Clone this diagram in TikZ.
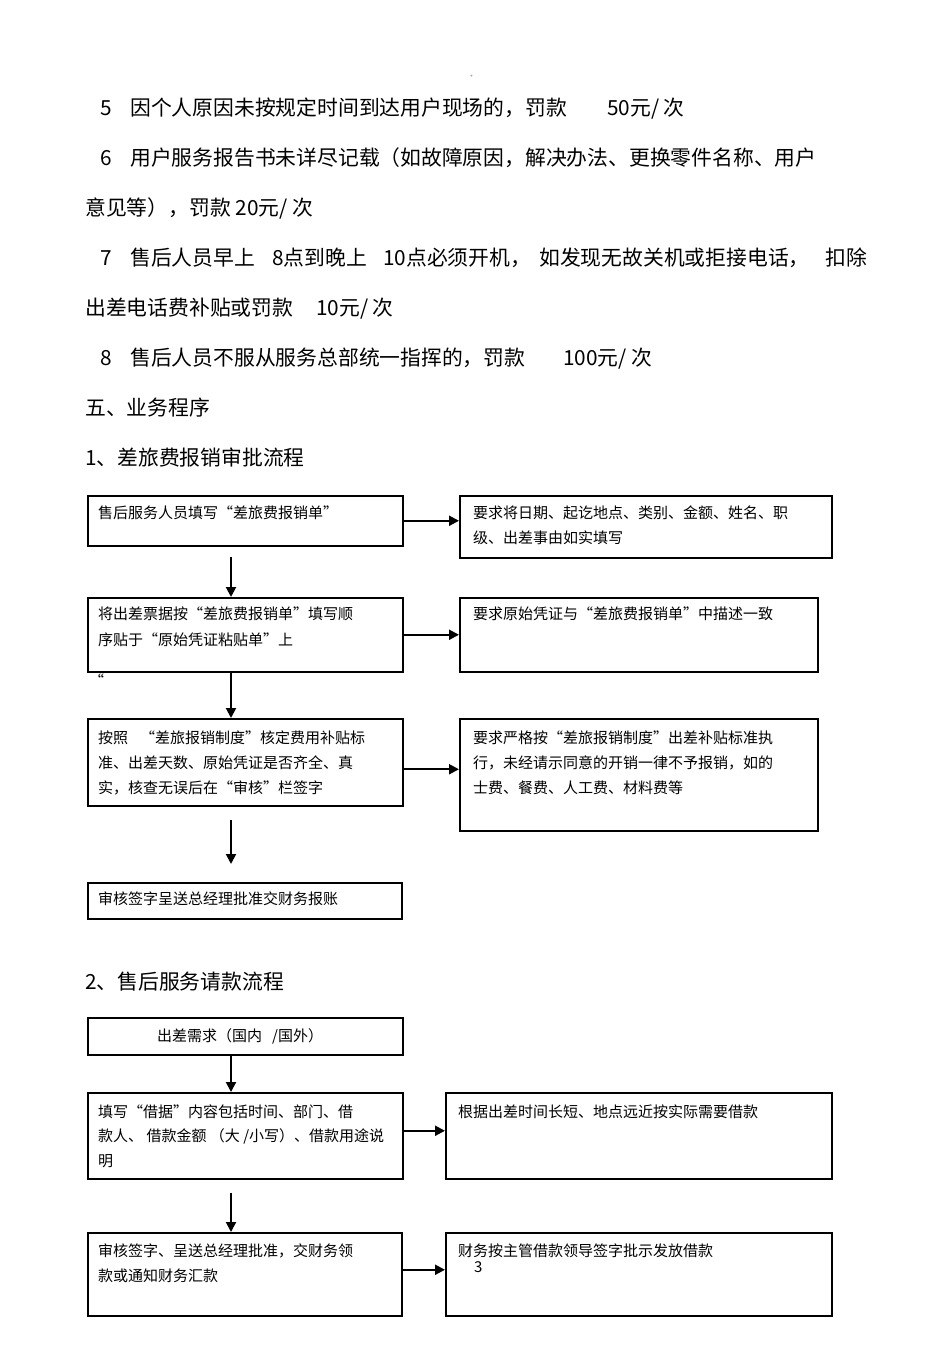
\documentclass[tikz,border=0pt]{standalone}
\usepackage{fontspec}
\setmainfont{Noto Sans CJK SC}
\usetikzlibrary{arrows.meta}
\begin{document}
\begin{tikzpicture}[x=1pt,y=-1pt,
  mt/.style={font=\fontsize{20.8}{24}\selectfont,inner sep=0pt,anchor=base west},
  bt/.style={font=\fontsize{15}{18}\selectfont,inner sep=0pt,anchor=base west},
  box/.style={draw,line width=1.5pt,anchor=north west,inner sep=0pt},
  arr/.style={line width=2pt,-{Triangle[width=10pt,length=10pt]}}]
\fill[white] (0,0) rectangle (950,1345);
\useasboundingbox (0,0) rectangle (950,1345);

% tiny mark
\node[inner sep=0pt,font=\fontsize{5}{6}\selectfont] (dot) at (473,76) {。};

% body text
\node[mt] (n5) at (100,115.8) {5};
\node[mt] (t5) at (130,115.8) {因个人原因未按规定时间到达用户现场的，罚款};
\node[mt] (p5) at (607,115.8) {50元/ 次};
\node[mt] (n6) at (100,165.8) {6};
\node[mt] (t6) at (130,165.8) {用户服务报告书未详尽记载（如故障原因，解决办法、更换零件名称、用户};
\node[mt] (t6b) at (85,215.8) {意见等），罚款 20元/ 次};
\node[mt] (n7) at (100,265.8) {7};
\node[mt] (t7a) at (130,265.8) {售后人员早上};
\node[mt] (t7b) at (272,265.8) {8点到晚上};
\node[mt] (t7c) at (383,265.8) {10点必须开机，};
\node[mt] (t7d) at (539,265.8) {如发现无故关机或拒接电话，};
\node[mt] (t7e) at (825,265.8) {扣除};
\node[mt] (t7f) at (85,315.8) {出差电话费补贴或罚款};
\node[mt] (t7g) at (316,315.8) {10元/ 次};
\node[mt] (n8) at (100,365.8) {8};
\node[mt] (t8) at (130,365.8) {售后人员不服从服务总部统一指挥的，罚款};
\node[mt] (p8) at (563,365.8) {100元/ 次};
\node[mt] (h5) at (85,415.8) {五、业务程序};
\node[mt] (h1) at (85,465.8) {1、差旅费报销审批流程};
\node[mt] (h2) at (85,989.8) {2、售后服务请款流程};

% flow 1 boxes
\node[box,minimum width=315,minimum height=50] (A1) at (87,495) {};
\node[box,minimum width=372,minimum height=62] (B1) at (459,495) {};
\node[box,minimum width=315,minimum height=74] (A2) at (87,597) {};
\node[box,minimum width=358,minimum height=74] (B2) at (459,597) {};
\node[box,minimum width=315,minimum height=87] (A3) at (87,718) {};
\node[box,minimum width=358,minimum height=112] (B3) at (459,718) {};
\node[box,minimum width=314,minimum height=36] (A4) at (87,882) {};

% flow 2 boxes
\node[box,minimum width=315,minimum height=37] (C1) at (87,1017) {};
\node[box,minimum width=315,minimum height=86] (C2) at (87,1092) {};
\node[box,minimum width=386,minimum height=86] (D2) at (445,1092) {};
\node[box,minimum width=314,minimum height=83] (C3) at (87,1232) {};
\node[box,minimum width=386,minimum height=83] (D3) at (445,1232) {};

% box texts
\node[bt] (a1) at (98,518.5) {售后服务人员填写“差旅费报销单”};
\node[bt] (b1a) at (473,518.5) {要求将日期、起讫地点、类别、金额、姓名、职};
\node[bt] (b1b) at (473,543.5) {级、出差事由如实填写};
\node[bt] (a2a) at (98,619.5) {将出差票据按“差旅费报销单”填写顺};
\node[bt] (a2b) at (98,645.5) {序贴于“原始凭证粘贴单”上};
\node[bt] (b2) at (473,619.5) {要求原始凭证与“差旅费报销单”中描述一致};
\node[bt] (q) at (89,686) {“};
\node[bt] (a3a) at (98,743.5) {按照\hspace{12pt}“差旅报销制度”核定费用补贴标};
\node[bt] (a3b) at (98,768.5) {准、出差天数、原始凭证是否齐全、真};
\node[bt] (a3c) at (98,793.5) {实，核查无误后在“审核”栏签字};
\node[bt] (b3a) at (473,743.5) {要求严格按“差旅报销制度”出差补贴标准执};
\node[bt] (b3b) at (473,768.5) {行，未经请示同意的开销一律不予报销，如的};
\node[bt] (b3c) at (473,793.5) {士费、餐费、人工费、材料费等};
\node[bt] (a4) at (98,904.5) {审核签字呈送总经理批准交财务报账};
\node[bt] (c1) at (157,1041.5) {出差需求（国内\hspace{10pt}/国外）};
\node[bt] (c2a) at (98,1117.5) {填写“借据”内容包括时间、部门、借};
\node[bt] (c2b) at (98,1141.5) {款人、 借款金额 （大 /小写）、借款用途说};
\node[bt] (c2c) at (98,1166.5) {明};
\node[bt] (d2) at (458,1117.5) {根据出差时间长短、地点远近按实际需要借款};
\node[bt] (c3a) at (98,1256.5) {审核签字、呈送总经理批准，交财务领};
\node[bt] (c3b) at (98,1281.5) {款或通知财务汇款};
\node[bt] (d3) at (458,1256.5) {财务按主管借款领导签字批示发放借款};
\node[bt] (pg) at (474,1272.5) {3};

% horizontal arrows
\draw[arr] (A1.east) -- (A1.east -| B1.west);
\draw[arr] (A2.east) -- (A2.east -| B2.west);
\draw[arr] ([yshift=-7pt]A3.east) -- ([yshift=-7pt]A3.east -| B3.west);
\draw[arr] ([yshift=5pt]C2.east) -- ([yshift=5pt]C2.east -| D2.west);
\draw[arr] ([yshift=4.5pt]C3.east) -- ([yshift=4.5pt]C3.east -| D3.west);

% vertical arrows
\coordinate (v1) at (231,557);
\coordinate (v2) at (231,672);
\coordinate (v3) at (231,820);
\coordinate (v3e) at (231,864);
\coordinate (v4) at (231,1055);
\coordinate (v5) at (231,1193);
\draw[arr] (v1) -- (v1 |- A2.north);
\draw[arr] (v2) -- (v2 |- A3.north);
\draw[arr] (v3) -- (v3e);
\draw[arr] (v4) -- (v4 |- C2.north);
\draw[arr] (v5) -- (v5 |- C3.north);
\end{tikzpicture}
\end{document}
